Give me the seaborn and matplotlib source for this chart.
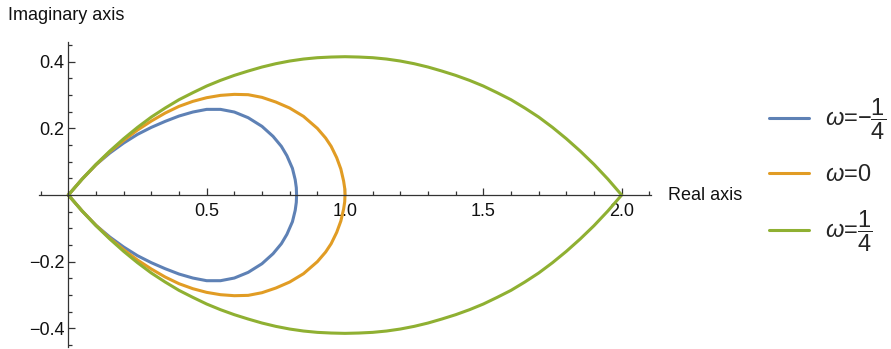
import matplotlib
matplotlib.use("Agg")
import matplotlib.pyplot as plt
import pandas as pd
import seaborn as sns

# curves: x goes out along the upper half,
# the lower half is listed with the same x positions
blue_x = [0.0, 0.05, 0.10, 0.15, 0.20, 0.25, 0.30, 0.35, 0.40, 0.45, 0.50,
          0.55, 0.60, 0.65, 0.70, 0.74, 0.77, 0.79, 0.81, 0.82, 0.824, 0.825]
blue_up = [0.0, 0.048, 0.091, 0.126, 0.156, 0.182, 0.203, 0.221, 0.237, 0.249, 0.257,
           0.257, 0.249, 0.232, 0.206, 0.176, 0.146, 0.118, 0.080, 0.046, 0.022, 0.0]
blue_low = [0.0, -0.048, -0.091, -0.126, -0.156, -0.182, -0.203, -0.221, -0.237, -0.249, -0.257,
            -0.257, -0.249, -0.232, -0.206, -0.176, -0.146, -0.118, -0.080, -0.046, -0.022, 0.0]

orange_x = [0.0, 0.05, 0.10, 0.15, 0.20, 0.25, 0.30, 0.35, 0.40, 0.45, 0.50, 0.55, 0.60,
            0.65, 0.70, 0.75, 0.80, 0.85, 0.90, 0.93, 0.95, 0.97, 0.985, 0.995, 0.999, 1.0]
orange_up = [0.0, 0.048, 0.091, 0.130, 0.164, 0.195, 0.222, 0.246, 0.266, 0.281, 0.292, 0.299, 0.302,
             0.301, 0.293, 0.279, 0.261, 0.236, 0.200, 0.171, 0.146, 0.112, 0.078, 0.042, 0.020, 0.0]
orange_low = [0.0, -0.048, -0.091, -0.130, -0.164, -0.195, -0.222, -0.246, -0.266, -0.281, -0.292, -0.299, -0.302,
              -0.301, -0.293, -0.279, -0.261, -0.236, -0.200, -0.171, -0.146, -0.112, -0.078, -0.042, -0.020, 0.0]

green_x = [0.0, 0.05, 0.10, 0.15, 0.20, 0.25, 0.30, 0.35, 0.40, 0.45, 0.50, 0.55, 0.60, 0.65,
           0.70, 0.75, 0.80, 0.85, 0.90, 0.95, 1.00, 1.05, 1.10, 1.15, 1.20, 1.25, 1.30, 1.35,
           1.40, 1.45, 1.50, 1.55, 1.60, 1.65, 1.70, 1.75, 1.80, 1.85, 1.90, 1.95, 2.0]
green_up = [0.0, 0.048, 0.092, 0.132, 0.169, 0.203, 0.234, 0.261, 0.286, 0.307, 0.327, 0.344, 0.359, 0.372,
            0.384, 0.394, 0.402, 0.408, 0.412, 0.414, 0.415, 0.414, 0.412, 0.408, 0.402, 0.394, 0.384, 0.372,
            0.359, 0.344, 0.327, 0.307, 0.286, 0.261, 0.234, 0.203, 0.169, 0.132, 0.092, 0.048, 0.0]
green_low = [0.0, -0.048, -0.092, -0.132, -0.169, -0.203, -0.234, -0.261, -0.286, -0.307, -0.327, -0.344, -0.359, -0.372,
             -0.384, -0.394, -0.402, -0.408, -0.412, -0.414, -0.415, -0.414, -0.412, -0.408, -0.402, -0.394, -0.384, -0.372,
             -0.359, -0.344, -0.327, -0.307, -0.286, -0.261, -0.234, -0.203, -0.169, -0.132, -0.092, -0.048, 0.0]

labels = ['$\\omega$=\u2212$\\dfrac{1}{4}$', '$\\omega$=0', '$\\omega$=$\\dfrac{1}{4}$']
colors = ['#5E81B5', '#E19C24', '#8FB032']

x_ticks = [0.5, 1.0, 1.5, 2.0]
x_tick_labels = ['0.5', '1.0', '1.5', '2.0']
y_ticks = [-0.4, -0.2, 0.2, 0.4]
y_tick_labels = ['\u22120.4', '\u22120.2', '0.2', '0.4']


def closed_curve(label, xs, up, low):
    """one closed loop: out along the top, back along the bottom"""
    return pd.DataFrame({'x': xs + xs[::-1], 'y': up + low[::-1], 'omega': label})


df = pd.concat([
    closed_curve(labels[0], blue_x, blue_up, blue_low),
    closed_curve(labels[1], orange_x, orange_up, orange_low),
    closed_curve(labels[2], green_x, green_up, green_low),
], ignore_index=True)

sns.set_style("white")
plt.rcParams['font.family'] = ['Liberation Sans', 'DejaVu Sans']
plt.rcParams['mathtext.fontset'] = 'custom'
plt.rcParams['mathtext.rm'] = 'Liberation Sans'
plt.rcParams['mathtext.it'] = 'Liberation Sans:italic'

fig = plt.figure(figsize=(8.91, 3.49), dpi=100)
ax = fig.add_axes([0.0441, 0.0066, 0.6862, 0.872])

sns.lineplot(data=df, x='x', y='y', hue='omega', hue_order=labels,
             palette=colors, sort=False, estimator=None, linewidth=2.2, ax=ax)

ax.set_xlim(-0.105, 2.105)
ax.set_ylim(-0.455, 0.458)
ax.set_axisbelow(True)

# Mathematica style axes through the origin
for side in ['top', 'right']:
    ax.spines[side].set_visible(False)
ax.spines['left'].set_position(('data', 0))
ax.spines['bottom'].set_position(('data', 0))
for side in ['left', 'bottom']:
    ax.spines[side].set_color('#333333')
    ax.spines[side].set_linewidth(0.9)

ax.set_xticks(x_ticks)
ax.set_xticklabels(x_tick_labels)
ax.set_yticks(y_ticks)
ax.set_yticklabels(y_tick_labels)
ax.xaxis.set_minor_locator(plt.MultipleLocator(0.1))
ax.yaxis.set_minor_locator(plt.MultipleLocator(0.05))
ax.tick_params(which='both', direction='in', color='#333333', width=0.9,
               bottom=True, left=True, labelsize=13, labelcolor='#111111')
ax.tick_params(which='major', length=5)
ax.tick_params(which='minor', length=3)
ax.tick_params(axis='x', pad=6)
ax.tick_params(axis='y', pad=3)
ax.set_xlabel('')
ax.set_ylabel('')

fig.text(8 / 891, 1 - 15 / 349, 'Imaginary axis', fontsize=13,
         ha='left', va='center', color='#111111')
fig.text(668 / 891, 1 - 195 / 349, 'Real axis', fontsize=13,
         ha='left', va='center', color='#111111')

handles, _ = ax.get_legend_handles_labels()
ax.get_legend().remove()
fig.legend(handles, labels, loc='center left', bbox_to_anchor=(748 / 891, 1 - 175 / 349),
           frameon=False, fontsize=17, handlelength=1.7, handletextpad=0.65,
           labelspacing=0.95)

fig.savefig('out.png', dpi=100)
